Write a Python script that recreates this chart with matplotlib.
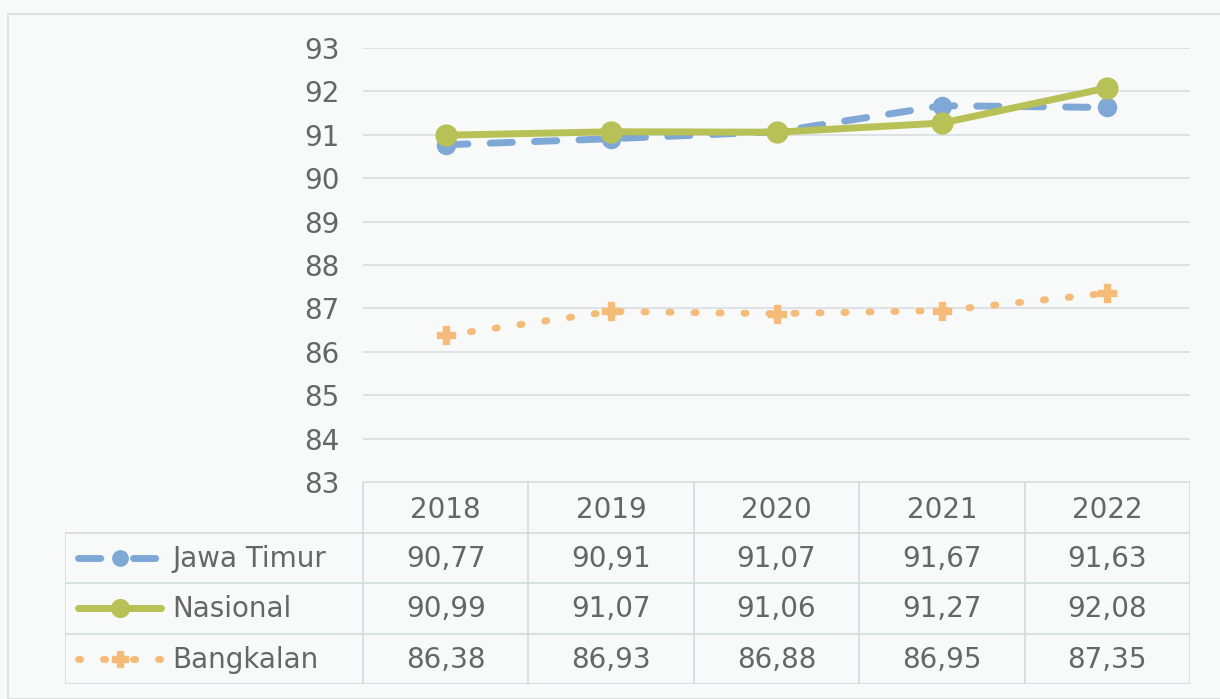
import matplotlib.pyplot as plt
from matplotlib.patches import Rectangle
from matplotlib.lines import Line2D

years = ['2018', '2019', '2020', '2021', '2022']
series_names = ['Jawa Timur', 'Nasional', 'Bangkalan']
jawa_timur = [90.77, 90.91, 91.07, 91.67, 91.63]
nasional = [90.99, 91.07, 91.06, 91.27, 92.08]
bangkalan = [86.38, 86.93, 86.88, 86.95, 87.35]
y_ticks = list(range(83, 94))

BG = '#f8f9f9'
TXT = '#666666'
GRID = '#d9dee4'
styles = [
    dict(color='#7fa8d6', ls=(0, (3.2, 3.2)), lw=5, marker='o', ms=13),
    dict(color='#b8c155', ls='-', lw=5, marker='o', ms=15),
    dict(color='#f5bb78', ls=(0, (0.3, 3.3)), lw=5, marker='P', ms=13),
]
data = [jawa_timur, nasional, bangkalan]

W, H = 1220, 699
fig = plt.figure(figsize=(W / 100, H / 100), dpi=100, facecolor=BG)
fig.patches.append(Rectangle((8 / W, 0), 1.2, 1 - 14 / H, transform=fig.transFigure,
                             fill=False, ec='#d8dcdf', lw=1.2))

# chart area
x0, x1 = 363, 1190
ax = fig.add_axes([x0 / W, 1 - 482 / H, (x1 - x0) / W, (482 - 48) / H])
ax.set_facecolor(BG)
xs = list(range(len(years)))
for vals, st in zip(data, styles):
    ax.plot(xs, vals, color=st['color'], ls=st['ls'], lw=st['lw'], marker=st['marker'],
            ms=st['ms'], mec=st['color'], mfc=st['color'], dash_capstyle='round',
            solid_capstyle='round', zorder=3)
ax.set_xlim(-0.5, len(years) - 0.5)
ax.set_ylim(83, 93)
ax.set_yticks(y_ticks)
ax.set_yticklabels([str(t) for t in y_ticks])
ax.set_xticks([])
ax.tick_params(axis='y', length=0, pad=17, labelsize=20, labelcolor=TXT)
ax.grid(axis='y', color=GRID, lw=1.2)
for s in ax.spines.values():
    s.set_visible(False)

# data table below the chart
tl = 65
ncol_left = (x0 - tl) / ((x1 - x0) / len(years))
tax = fig.add_axes([tl / W, 1 - 684 / H, (x1 - tl) / W, (684 - 482) / H])
tax.set_xlim(-0.5 - ncol_left, len(years) - 0.5)
tax.set_ylim(4.0, 0)
tax.axis('off')
lc = '#d3d9df'
# header row
tax.plot([-0.5, len(years) - 0.5], [0, 0], color=lc, lw=1.2)
for i, y in enumerate(years):
    tax.text(i, 0.55, y, ha='center', va='center', fontsize=20, color=TXT)
for r in range(1, 5):
    tax.plot([-0.5 - ncol_left, len(years) - 0.5], [r, r], color=lc, lw=1.2)
for c in range(len(years) + 1):
    tax.plot([c - 0.5, c - 0.5], [0, 4], color=lc, lw=1.2)
tax.plot([-0.5 - ncol_left] * 2, [1, 4], color=lc, lw=1.2)

# legend keys: line - marker - line, then series name and values
for r, (name, vals, st) in enumerate(zip(series_names, data, styles)):
    yc = r + 1.5
    lx = -0.5 - ncol_left + 0.08
    if st['ls'] == '-':
        segs = [(lx, lx + 0.5)]
    else:
        segs = [(lx, lx + 0.17), (lx + 0.33, lx + 0.5)]
    for a, b in segs:
        tax.add_line(Line2D([a, b], [yc, yc], color=st['color'],
                            ls='-' if st['ls'] == '-' else st['ls'], lw=st['lw'],
                            dash_capstyle='round', solid_capstyle='round'))
    tax.plot([lx + 0.25], [yc], marker=st['marker'], ms=st['ms'] * 0.85, color=st['color'])
    tax.text(lx + 0.57, yc + 0.02, name, ha='left', va='center', fontsize=20, color=TXT)
    for i, v in enumerate(vals):
        tax.text(i, yc + 0.02, f'{v:.2f}'.replace('.', ','), ha='center', va='center',
                 fontsize=20, color=TXT)

fig.savefig('out.png', dpi=100, facecolor=BG)
